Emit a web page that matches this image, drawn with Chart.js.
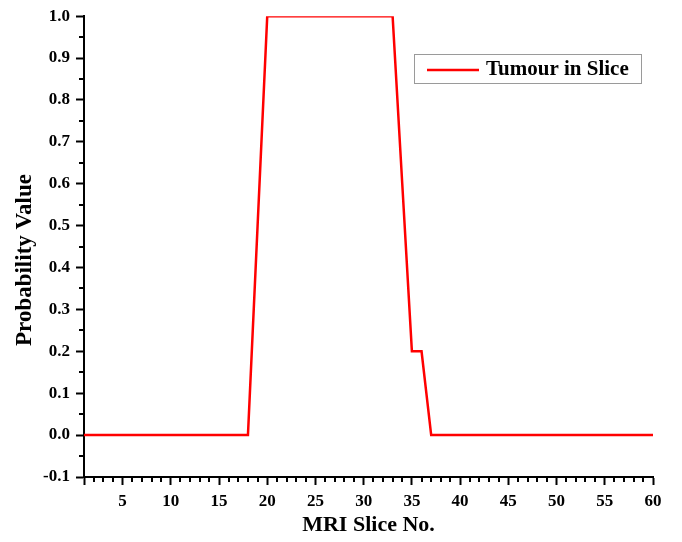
<!DOCTYPE html>
<html>
<head>
<meta charset="utf-8">
<script src="https://cdn.jsdelivr.net/npm/chart.js@4"></script>
<style>
  html, body { margin: 0; padding: 0; background: #fff; }
  #wrap { width: 682px; height: 542px; }
</style>
</head>
<body>
<div id="wrap"><canvas id="sliceChart" width="682" height="542"></canvas></div>
<script>
// slice numbers and probability
const slices = [1, 2, 3, 4, 5, 6, 7, 8, 9, 10, 11, 12, 13, 14, 15, 16, 17, 18, 19, 20,
    21, 22, 23, 24, 25, 26, 27, 28, 29, 30, 31, 32, 33, 34, 35, 36, 37, 38, 39, 40,
    41, 42, 43, 44, 45, 46, 47, 48, 49, 50, 51, 52, 53, 54, 55, 56, 57, 58, 59, 60];
const probability = [0, 0, 0, 0, 0, 0, 0, 0, 0, 0, 0, 0, 0, 0, 0, 0, 0, 0, 0.5, 1,
    1, 1, 1, 1, 1, 1, 1, 1, 1, 1, 1, 1, 1, 0.6, 0.2, 0.2, 0, 0, 0, 0,
    0, 0, 0, 0, 0, 0, 0, 0, 0, 0, 0, 0, 0, 0, 0, 0, 0, 0, 0, 0];
const xTickLabels = [5, 10, 15, 20, 25, 30, 35, 40, 45, 50, 55, 60];
const seriesName = 'Tumour in Slice';
const yTitle = 'Probability Value';

const serif = "'Liberation Serif', 'Times New Roman', serif";

// small outward minor ticks, y title and the boxed legend
const extras = {
    id: 'extras',
    afterDraw(chart) {
        const c = chart.ctx;
        const xs = chart.scales.x, ys = chart.scales.y;
        c.save();
        c.strokeStyle = '#000';
        c.lineWidth = 2;
        c.beginPath();
        for (let v = 2; v < 60; v++) {
            if (v % 5 === 0) continue;
            const px = Math.round(xs.getPixelForValue(v));
            c.moveTo(px, xs.top);
            c.lineTo(px, xs.top + 5);
        }
        for (let k = -1; k < 20; k += 2) {
            const py = Math.round(ys.getPixelForValue(k * 0.05));
            c.moveTo(ys.right, py);
            c.lineTo(ys.right - 5, py);
        }
        c.stroke();

        // y axis title (sits a bit below the plot centre in the original)
        c.save();
        c.translate(25, 260);
        c.rotate(-Math.PI / 2);
        c.fillStyle = '#000';
        c.font = 'bold 23px ' + serif;
        c.textAlign = 'center';
        c.textBaseline = 'middle';
        c.fillText(yTitle, 0, 0);
        c.restore();

        // legend box
        c.lineWidth = 1;
        c.strokeStyle = '#9a9a9a';
        c.strokeRect(414.5, 54.5, 227, 29);
        c.strokeStyle = '#ff0000';
        c.lineWidth = 2.5;
        c.beginPath();
        c.moveTo(427, 70);
        c.lineTo(479, 70);
        c.stroke();
        c.fillStyle = '#000';
        c.font = 'bold 21px ' + serif;
        c.textBaseline = 'middle';
        c.fillText(seriesName, 486, 70);
        c.restore();
    }
};

const ctx = document.getElementById('sliceChart').getContext('2d');
const sliceChart = new Chart(ctx, {
    type: 'line',
    data: {
        datasets: [{
            label: seriesName,
            data: slices.map((s, i) => ({ x: s, y: probability[i] })),
            borderColor: '#ff0000',
            borderWidth: 2.5,
            pointRadius: 0,
            tension: 0,
            fill: false
        }]
    },
    options: {
        responsive: false,
        animation: false,
        layout: { padding: { left: 0, top: 15, right: 29, bottom: 0 } },
        plugins: {
            legend: { display: false },
            tooltip: { enabled: false }
        },
        scales: {
            x: {
                type: 'linear',
                min: 1,
                max: 60,
                afterBuildTicks: (scale) => {
                    scale.ticks = [{ value: 1 }].concat(xTickLabels.map(v => ({ value: v })));
                },
                ticks: {
                    color: '#000',
                    font: { family: serif, size: 17, weight: 'bold' },
                    padding: 6,
                    maxRotation: 0,
                    autoSkip: false,
                    callback: (v) => (v === 1 ? '' : String(v))
                },
                grid: { drawOnChartArea: false, drawTicks: true, tickLength: 8, tickColor: '#000', tickWidth: 2 },
                border: { display: true, color: '#000', width: 2 },
                title: {
                    display: true,
                    text: 'MRI Slice No.',
                    color: '#000',
                    font: { family: serif, size: 22, weight: 'bold' },
                    padding: { top: 3, bottom: 3 }
                },
                afterFit: (scale) => { scale.height = 65; }
            },
            y: {
                min: -0.1,
                max: 1.0,
                ticks: {
                    stepSize: 0.1,
                    color: '#000',
                    font: { family: serif, size: 17, weight: 'bold' },
                    padding: 6,
                    callback: (v) => Number(v).toFixed(1)
                },
                grid: { drawOnChartArea: false, drawTicks: true, tickLength: 8, tickColor: '#000', tickWidth: 2 },
                border: { display: true, color: '#000', width: 2 },
                afterFit: (scale) => { scale.width = 84; }
            }
        }
    },
    plugins: [extras]
});
</script>
</body>
</html>
